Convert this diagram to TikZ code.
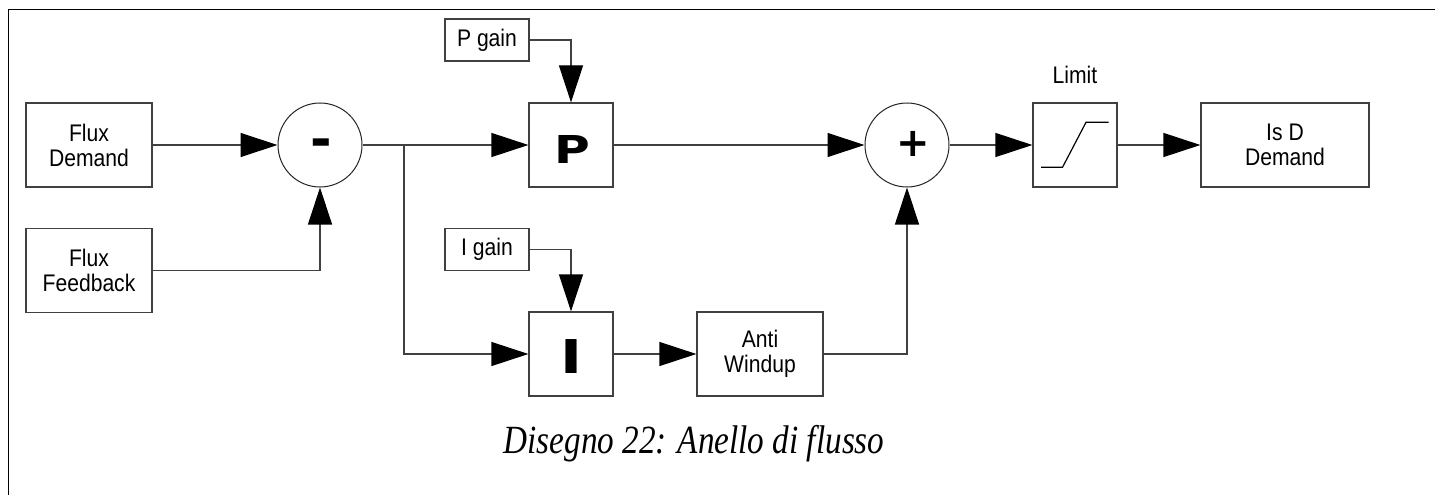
\documentclass[tikz,border=0pt]{standalone}
\usepackage{fontspec}
\usetikzlibrary{arrows.meta,shapes.geometric}
\setmainfont{Liberation Sans}
\newfontfamily\boxfont[FakeStretch=0.88]{Liberation Sans}
\newfontfamily\capfont[FakeStretch=0.83]{Liberation Serif}
\newfontfamily\symfont[FakeStretch=1.27]{DejaVu Sans}
\newfontfamily\opfont{DejaVu Sans}
\begin{document}
\begin{tikzpicture}[x=1pt,y=-1pt,
  ln/.style={line width=1.2pt, draw=black!75},
  blk/.style={ln, rectangle, inner sep=0pt, align=center,
    font=\boxfont\fontsize{24}{25}\selectfont},
  sq/.style={blk, minimum width=84pt, minimum height=84pt},
  wide/.style={blk, minimum width=126pt, minimum height=84pt},
  gain/.style={blk, minimum width=84pt, minimum height=42pt},
  sumc/.style={circle, draw=black!85, line width=1pt, minimum size=84pt, inner sep=0pt},
  arr/.style={ln, -{Triangle[length=37pt,width=24pt,color=black]}},
  wire/.style={ln},
  sym/.style={inner sep=0pt, font=\symfont\bfseries},
  lbl/.style={inner sep=0pt, font=\boxfont\fontsize{24}{25}\selectfont}
]
\useasboundingbox (0,0) rectangle (1435,495);
\draw[line width=1pt, black] (8,495) -- (8,10) -- (1435,10);

\node[wide] (fd) at (89,145) {Flux\\Demand};
\node[wide] (ff) at (89,270.5) {Flux\\Feedback};
\node[sumc] (minus) at (320,145) {};
\node[sym, font=\opfont\bfseries\fontsize{52}{52}\selectfont] (minussym) at (321.5,148.5) {-};
\node[gain] (pg) at (487,40) {P gain};
\node[sq] (P) at (571,145) {};
\node[sym, anchor=base, font=\symfont\bfseries\fontsize{38.4}{40}\selectfont] (Psym) at (572,163) {P};
\node[gain] (ig) at (487,249.5) {I gain};
\node[sq] (I) at (571,354) {};
\node[sym, anchor=base, font=\symfont\bfseries\fontsize{46.6}{48}\selectfont] (Isym) at (571.5,373) {I};
\node[wide] (aw) at (760,354) {Anti\\Windup};
\node[sumc] (plus) at (907,145) {};
\node[sym, font=\opfont\bfseries\fontsize{40}{40}\selectfont] (plussym) at (913,144) {+};
\node[sq] (lim) at (1075,145) {};
\node[lbl, anchor=base] (limlbl) at (1075,83) {Limit};
\node[blk, minimum width=168pt, minimum height=84pt] (isd) at (1285,145) {Is D\\Demand};
\node[inner sep=0pt, anchor=base, font=\capfont\itshape\fontsize{40}{40}\selectfont] (cap) at (694,453) {Disegno 22: Anello di flusso};

\draw[line width=1.2pt, black] (1041,167.3) -- (1062.5,167.3) -- (1086,122.3) -- (1108.5,122.3);

\coordinate (j) at (404,145);
\draw[arr] (fd.east) -- (minus.west);
\draw[arr] (ff.east) -| (minus.south);
\draw[wire] (minus.east) -- (j);
\draw[arr] (j) -- (P.west);
\draw[arr] (j) |- (I.west);
\draw[arr] (pg.east) -| (P.north);
\draw[arr] (ig.east) -| (I.north);
\draw[arr] (P.east) -- (plus.west);
\draw[arr] (I.east) -- (aw.west);
\draw[arr] (aw.east) -| (plus.south);
\draw[arr] (plus.east) -- (lim.west);
\draw[arr] (lim.east) -- (isd.west);
\end{tikzpicture}
\end{document}
